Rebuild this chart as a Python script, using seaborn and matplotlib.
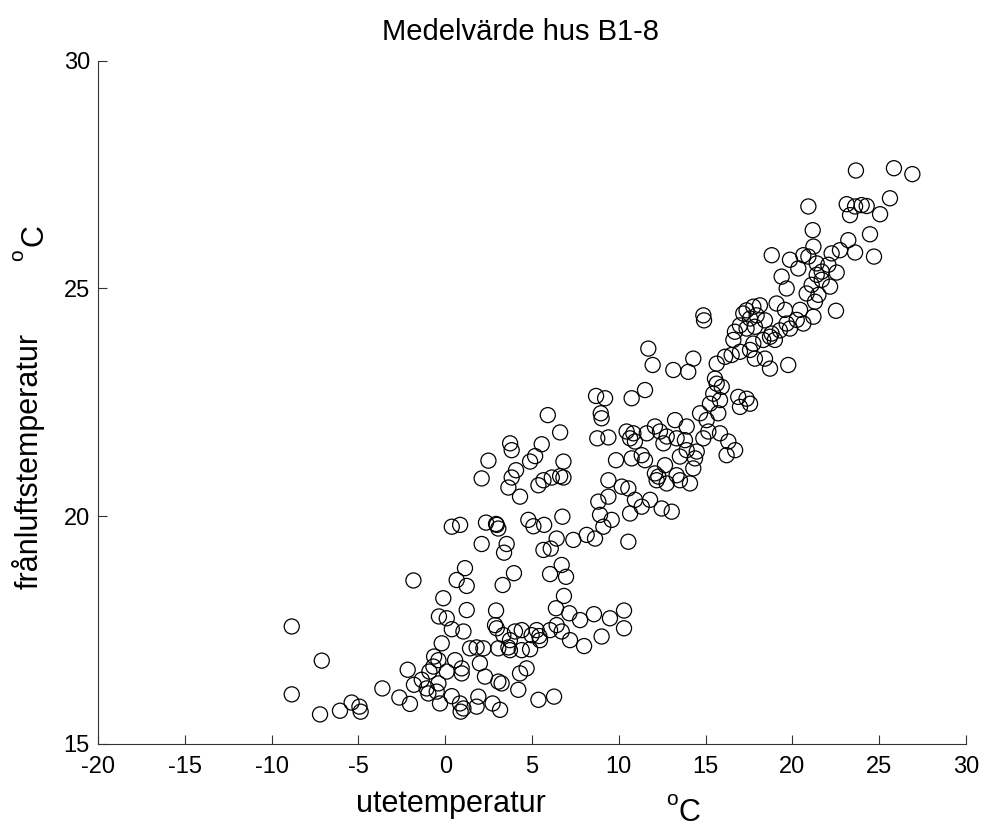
import matplotlib
matplotlib.use("Agg")
import matplotlib.pyplot as plt
import seaborn as sns
import pandas as pd

# Mean values, houses B1-8
ute = [
    # lower-left cluster
    -1.83, -8.84, -7.11, -8.84, -7.21, -6.06, -5.39, -4.94, -4.87, -3.62, -2.64, -2.03, -2.16, -1.80,
    -1.35, -1.07, -0.91, -0.64, -0.39, -0.20, -0.11, -0.36, 0.09, 0.38, 0.66, 1.14, 1.24, 1.24,
    1.05, 1.43, 0.95, 0.95, 0.57, 0.09, -0.39, -0.49, -0.30, 0.38, 0.85, 0.89, 1.05, -0.97, -0.68,
    # upper-left group
    5.91, 6.62, 3.74, 3.83, 5.56, 2.49, 4.89, 5.18, 6.81, 4.08, 2.10, 3.83, 3.64, 4.31, 5.37, 5.66,
    6.14, 6.62, 6.81, 0.38, 0.86, 2.35, 2.97, 3.06, 2.93, 4.79, 5.08, 5.70, 6.75, 2.10, 3.54, 3.39,
    6.42, 5.66, 6.08,
    # lower-middle band
    3.31, 3.96, 6.04, 6.71, 6.96, 6.84, 6.38, 7.15, 2.93, 7.77, 8.57, 9.49, 10.30, 10.30, 9.01, 8.00,
    7.19, 6.71, 6.04, 6.42, 5.42, 5.27, 4.98, 4.41, 4.02, 3.73, 3.35, 2.97, 2.87, 3.64, 3.73, 4.41,
    4.89, 5.46, 3.06, 2.20, 1.81, 2.00, 2.29, 3.06, 3.25, 4.21, 4.31, 4.69, 5.37, 6.27, 1.91, 2.73,
    3.16, 1.81,
    # middle
    11.51, 10.74, 8.69, 9.21, 8.96, 9.01, 8.76, 9.40, 9.84, 10.45, 10.65, 10.84, 10.93, 10.74, 11.32,
    11.51, 11.61, 12.08, 12.37, 12.76, 12.57, 13.24, 13.33, 13.91, 13.81, 13.91, 13.52, 14.39, 14.29,
    14.49, 12.08, 12.28, 12.18, 12.76, 13.33, 13.52, 14.10, 12.66, 14.68, 15.06, 15.73, 15.83, 15.16,
    16.21, 14.87, 9.40, 10.17, 10.55, 8.82, 9.40, 10.93, 11.32, 11.80, 12.47, 13.05, 10.65, 8.92,
    9.59, 9.11, 8.15, 7.38, 8.63, 10.55, 16.31, 16.70,
    # upper-middle
    17.36, 17.75, 18.13, 17.94, 17.56, 17.17, 16.98, 17.36, 17.84, 18.42, 14.87, 14.91, 18.80, 18.99,
    19.28, 19.86, 16.69, 16.60, 17.75, 18.32, 18.71, 11.70, 11.95, 14.29, 13.14, 14.00, 15.64, 16.12,
    16.50, 16.98, 17.56, 17.84, 18.42, 18.71, 19.76, 15.54, 15.64, 15.93, 15.44, 15.83, 16.88, 17.36,
    17.56, 16.98, 15.25,
    # upper-right
    23.66, 25.85, 26.91, 25.62, 23.13, 23.61, 23.99, 24.28, 23.32, 25.05, 20.92, 21.17, 24.47, 23.22,
    21.21, 22.74, 23.61, 22.26, 24.70, 20.63, 19.86, 20.92, 18.81, 20.34, 21.40, 22.07, 19.38, 21.40,
    21.69, 22.55, 19.67, 22.17, 21.11, 21.69, 21.50, 20.82, 21.30, 22.51, 21.21, 20.44, 19.57, 19.09,
    20.25, 20.63, 19.67,
]
franluft = [
    18.59, 17.58, 16.83, 16.09, 15.65, 15.73, 15.91, 15.82, 15.71, 16.22, 16.02, 15.88, 16.63, 16.30,
    16.41, 16.22, 16.59, 16.92, 16.84, 17.21, 18.20, 17.80, 17.76, 17.52, 18.60, 18.86, 18.47, 17.94,
    17.47, 17.10, 16.66, 16.55, 16.84, 16.59, 16.33, 16.15, 15.89, 16.05, 15.89, 15.71, 15.78, 16.11, 16.70,
    22.22, 21.84, 21.60, 21.45, 21.58, 21.22, 21.20, 21.32, 21.20, 21.01, 20.83, 20.85, 20.63, 20.43,
    20.68, 20.79, 20.85, 20.88, 20.85, 19.77, 19.81, 19.86, 19.81, 19.73, 19.83, 19.92, 19.78, 19.81,
    19.99, 19.39, 19.39, 19.20, 19.51, 19.26, 19.29,
    18.49, 18.75, 18.73, 18.93, 18.67, 18.25, 17.98, 17.87, 17.93, 17.72, 17.85, 17.76, 17.93, 17.54,
    17.36, 17.15, 17.28, 17.47, 17.50, 17.61, 17.37, 17.50, 17.39, 17.50, 17.47, 17.28, 17.39, 17.54,
    17.61, 17.12, 17.06, 17.06, 17.08, 17.28, 17.10, 17.10, 17.12, 16.77, 16.48, 16.37, 16.33, 16.19,
    16.55, 16.66, 15.97, 16.04, 16.04, 15.89, 15.75, 15.82,
    22.77, 22.59, 22.64, 22.59, 22.26, 22.15, 21.71, 21.73, 21.23, 21.86, 21.71, 21.82, 21.64, 21.27,
    21.34, 21.23, 21.82, 21.97, 21.86, 21.75, 21.60, 22.11, 21.71, 21.97, 21.67, 21.45, 21.31, 21.27,
    21.05, 21.42, 20.94, 20.87, 20.79, 20.72, 20.90, 20.79, 20.72, 21.12, 22.26, 22.11, 22.26, 21.82,
    21.86, 21.34, 21.71, 20.79, 20.65, 20.61, 20.32, 20.43, 20.36, 20.21, 20.36, 20.17, 20.10, 20.06,
    20.03, 19.92, 19.77, 19.59, 19.48, 19.51, 19.44, 21.64, 21.45,
    24.52, 24.60, 24.63, 24.41, 24.34, 24.45, 24.19, 24.12, 24.16, 24.30, 24.41, 24.30, 24.01, 23.87,
    24.08, 24.12, 24.05, 23.87, 23.79, 23.87, 23.94, 23.68, 23.32, 23.46, 23.21, 23.17, 23.35, 23.50,
    23.54, 23.61, 23.65, 23.46, 23.46, 23.24, 23.32, 23.02, 22.91, 22.84, 22.69, 22.55, 22.62, 22.58,
    22.47, 22.40, 22.47,
    27.59, 27.64, 27.51, 26.98, 26.85, 26.80, 26.83, 26.81, 26.61, 26.63, 26.80, 26.28, 26.19, 26.06,
    25.92, 25.84, 25.79, 25.77, 25.70, 25.73, 25.63, 25.70, 25.73, 25.44, 25.55, 25.52, 25.26, 25.30,
    25.37, 25.35, 25.00, 25.04, 25.08, 25.19, 24.86, 24.89, 24.71, 24.51, 24.38, 24.53, 24.53, 24.67,
    24.31, 24.23, 24.23,
]

x_ticks = [-20, -15, -10, -5, 0, 5, 10, 15, 20, 25, 30]
y_ticks = [15, 20, 25, 30]

df = pd.DataFrame({'ute': ute, 'franluft': franluft})

sns.set_style('ticks')
plt.rcParams['font.family'] = ['Liberation Sans', 'DejaVu Sans']
plt.rcParams['axes.unicode_minus'] = False
plt.rcParams['text.color'] = 'black'

W, H = 984, 831
fig = plt.figure(figsize=(W / 100, H / 100), dpi=100)
ax = fig.add_axes([98 / W, 1 - 744 / H, 868 / W, (744 - 60.7) / H])

sns.scatterplot(data=df, x='ute', y='franluft', ax=ax, marker='o', s=118,
                facecolors='none', edgecolor='black', linewidth=0.9)

ax.set_xlim(-20, 30)
ax.set_ylim(15, 30)
ax.set_xticks(x_ticks)
ax.set_yticks(y_ticks)
ax.tick_params(direction='in', length=6.5, width=0.8, labelsize=17,
               colors='#333333', labelcolor='black')
ax.tick_params(axis='x', pad=8.5)
ax.tick_params(axis='y', pad=5.8)
for side in ['top', 'right']:
    ax.spines[side].set_visible(False)
for side in ['left', 'bottom']:
    ax.spines[side].set_linewidth(0.8)
    ax.spines[side].set_color('#333333')
ax.set_xlabel('')
ax.set_ylabel('')

# title and axis labels placed in figure pixels
def px(x, y):
    return x / W, 1 - y / H

fig.text(*px(520, 32), 'Medelvärde hus B1-8', ha='center', va='center', fontsize=21, color='black')
fig.text(*px(451, 812), 'utetemperatur', ha='center', va='baseline', fontsize=22, color='black')
fig.text(*px(666, 805), 'o', ha='left', va='baseline', fontsize=15, color='black')
fig.text(*px(679, 821), 'C', ha='left', va='baseline', fontsize=22, color='black')

fig.text(*px(38, 461), 'frånluftstemperatur', rotation=90, rotation_mode='anchor',
         ha='center', va='baseline', fontsize=22, color='black')
fig.text(*px(23, 261), 'o', rotation=90, rotation_mode='anchor',
         ha='left', va='baseline', fontsize=15, color='black')
fig.text(*px(42, 246), 'C', rotation=90, rotation_mode='anchor',
         ha='left', va='baseline', fontsize=22, color='black')

fig.savefig('out.png', dpi=100, facecolor='white')
